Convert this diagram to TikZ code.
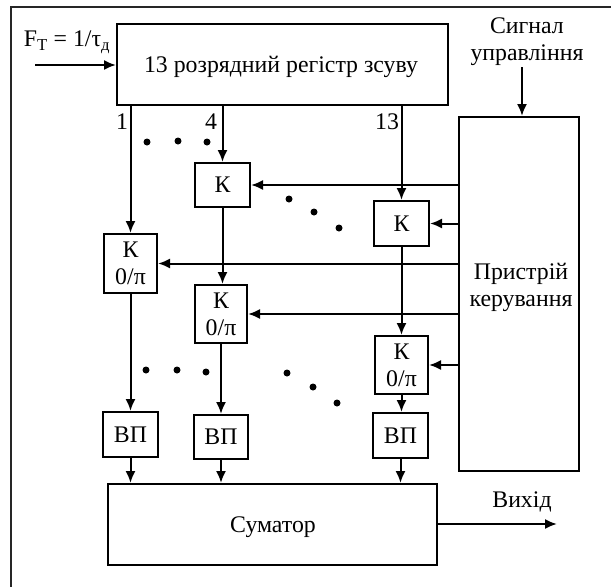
\documentclass[tikz,border=0pt]{standalone}
\usepackage{fontspec}
\setmainfont{Liberation Serif}
\usetikzlibrary{arrows.meta}
\tikzset{
  blk/.style={draw, line width=2pt, inner sep=0pt, align=center},
  txt/.style={inner sep=0pt, align=center},
  arr/.style={line width=2pt, -{Latex[length=12pt,width=10pt]}},
  dot/.style={circle, fill=black, inner sep=0pt, minimum size=7pt},
}
\begin{document}
\begin{tikzpicture}[x=1pt, y=-1pt, font=\fontsize{23.8}{27}\selectfont]
\useasboundingbox (0,0) rectangle (611,587);
% outer frame (only top and left visible)
\draw[line width=1.6pt, black!85] (611,7) -- (11,7) -- (11,587);

% blocks
\node[blk, minimum width=331pt, minimum height=81pt] (reg) at (282.5,64.5) {};
\node[txt] (regt) at (281,67) {13 розрядний регістр зсуву};
\node[blk, minimum width=120pt, minimum height=354pt] (ctrl) at (519,294) {};
\node[txt] (ctrlt) at (521,287) {Пристрій\\керування};

\node[blk, minimum width=55pt, minimum height=44pt] (k4) at (222.5,185) {К};
\node[blk, minimum width=55pt, minimum height=45pt] (k13) at (401.5,223.5) {К};

\node[blk, minimum width=53pt, minimum height=59pt] (kp1) at (130.5,263.5) {К\\0/π};
\node[blk, minimum width=52pt, minimum height=58pt] (kp4) at (221,314) {К\\0/π};
\node[blk, minimum width=53pt, minimum height=58pt] (kp13) at (401.5,365) {К\\0/π};

\node[blk, minimum width=55pt, minimum height=45pt] (vp1) at (130.5,434.5) {ВП};
\node[blk, minimum width=54pt, minimum height=44pt] (vp2) at (221,437) {ВП};
\node[blk, minimum width=55pt, minimum height=45pt] (vp3) at (400.5,435.5) {ВП};

\node[blk, minimum width=329pt, minimum height=81pt] (sum) at (272.5,524.5) {};
\node[txt] (sumt) at (273,527) {Суматор};

% texts
\node[txt] (ft) at (67,42) {F\textsubscript{Т} = 1/τ\textsubscript{д}};
\node[txt] (sig) at (527,42) {Сигнал\\управління};
\node[txt] (out) at (522,502) {Вихід};
\node[txt] (l1) at (122,122) {1};
\node[txt] (l4) at (211,122) {4};
\node[txt] (l13) at (387,122) {13};

% free ends
\coordinate (in) at (35,65);
\coordinate (sigs) at (522,67);
\coordinate (outp) at (557,524);

% connectors
\draw[arr] (in) -- (in -| reg.west);
\draw[arr] (sigs) -- (sigs |- ctrl.north);
\draw[arr] (sum.east |- outp) -- (outp);

\draw[arr] (kp1.north |- reg.south) -- (kp1.north);
\draw[arr] (k4.north |- reg.south) -- (k4.north);
\draw[arr] (k13.north |- reg.south) -- (k13.north);

\draw[arr] (k4.south) -- (kp4.north -| k4.south);
\draw[arr] (k13.south) -- (kp13.north -| k13.south);

\draw[arr] (kp1.south) -- (vp1.north);
\draw[arr] (kp4.south) -- (vp2.north -| kp4.south);
\draw[arr] (kp13.south) -- (vp3.north -| kp13.south);

\draw[arr] (vp1.south) -- (vp1.south |- sum.north);
\draw[arr] (vp2.south) -- (vp2.south |- sum.north);
\draw[arr] (vp3.south) -- (vp3.south |- sum.north);

\draw[arr] (ctrl.west |- k4.east) -- (k4.east);
\draw[arr] (ctrl.west |- k13.east) -- (k13.east);
\draw[arr] (ctrl.west |- kp1.east) -- (kp1.east);
\draw[arr] (ctrl.west |- kp4.east) -- (kp4.east);
\draw[arr] (ctrl.west |- kp13.east) -- (kp13.east);

% dots
\foreach \p in {(147,142),(178,141),(207,142),(289,199),(314,212),(339,228),
                (146,370),(177,370),(206,372),(287,373),(313,387),(337,403)}
  \node[dot] at \p {};
\end{tikzpicture}
\end{document}
